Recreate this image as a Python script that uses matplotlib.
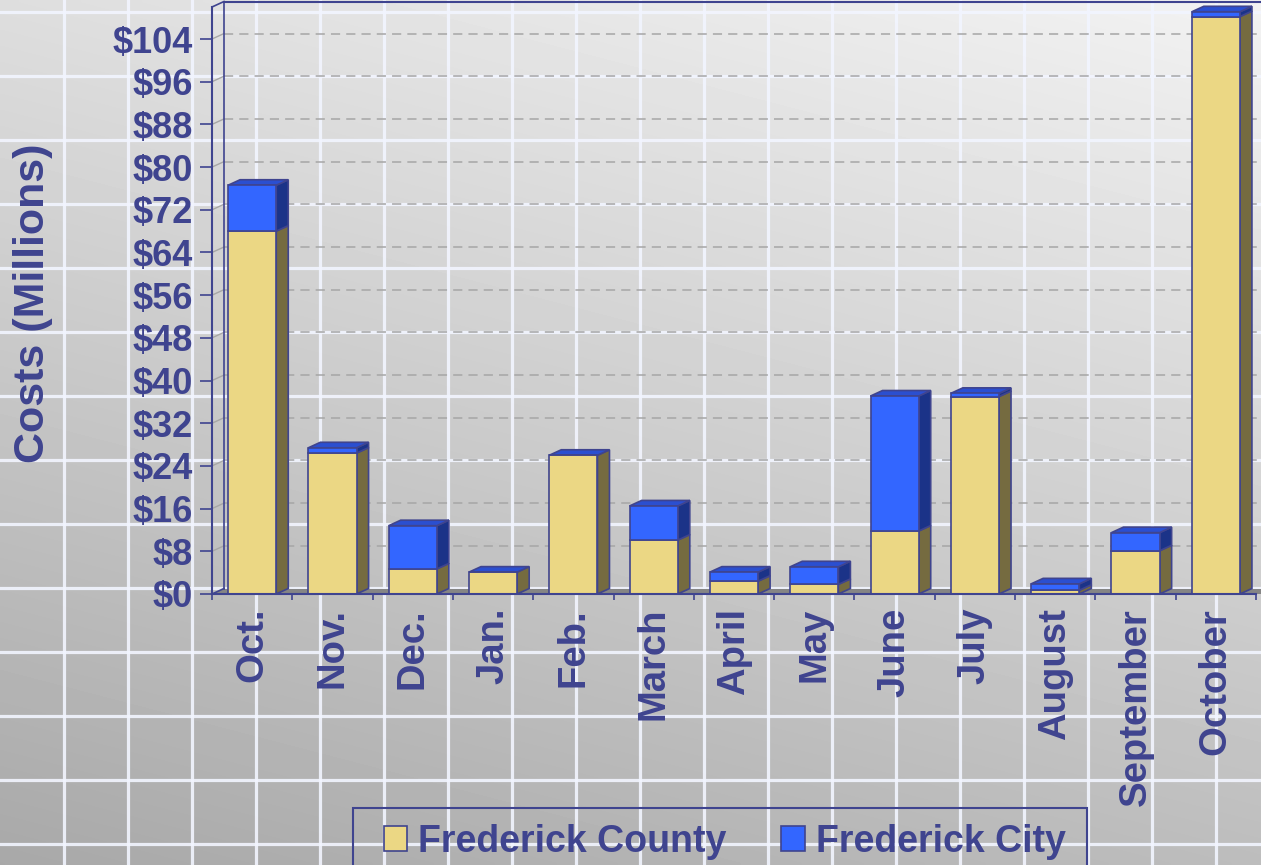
import numpy as np
import matplotlib
matplotlib.use("Agg")
import matplotlib.pyplot as plt
from matplotlib.patches import Polygon, Patch, Rectangle

# ---------------- data ----------------
months = ["Oct.", "Nov.", "Dec.", "Jan.", "Feb.", "March", "April", "May",
          "June", "July", "August", "September", "October"]
county = [68.0, 26.4, 4.7, 4.1, 26.0, 10.1, 2.4, 1.8, 11.8, 37.0, 0.7, 8.1, 108.2]
city = [8.6, 1.0, 8.1, 0.0, 0.0, 6.4, 1.7, 3.3, 25.3, 0.6, 1.2, 3.4, 0.9]
series_names = ["Frederick County", "Frederick City"]
yticks = list(range(0, 105, 8))
ytick_labels = [f"${v}" for v in yticks]

# ---------------- style ----------------
W, H = 1261, 865
TXT = "#3f448f"
C_FRONT = ["#ebd784", "#3366ff"]
C_SIDE = ["#756b40", "#1b3388"]
C_TOP = "#2b4fd0"
EDGE = "#3f448f"
FONT = "Liberation Sans"

plt.rcParams["font.family"] = [FONT, "DejaVu Sans"]
plt.rcParams["font.weight"] = "bold"

fig = plt.figure(figsize=(W / 100, H / 100), dpi=100)

# ---------------- background ----------------
bg = fig.add_axes([0, 0, 1, 1], zorder=-10)
bg.set_xlim(0, W)
bg.set_ylim(H, 0)
bg.axis("off")
yy, xx = np.mgrid[0:1:200j, 0:1:300j]
grad = 0.95 - 0.21 * yy - 0.08 * (1 - xx)
bg.imshow(grad, cmap="gray", vmin=0, vmax=1, extent=(0, W, H, 0),
          aspect="auto", interpolation="bilinear")
for gx in np.arange(63.5, W, 64):
    bg.axvline(gx, color="#f2f5ff", lw=2.3, alpha=0.9)
for gy in np.arange(12, H, 64):
    bg.axhline(gy, color="#f2f5ff", lw=2.3, alpha=0.9)

# ---------------- main axes ----------------
ax = fig.add_axes([212 / W, (H - 594) / H, 1044 / W, 587 / H])
ax.patch.set_visible(False)
n = len(months)
ax.set_xlim(-0.5, n - 0.5)
ax.set_ylim(0, 110)

px_x = 1044 / n
px_y = 587 / 110
DX, DY = 12, 5.5
ddx = DX / px_x
ddy = DY / px_y

# back wall outline, floor, gridlines
x0 = -0.5
x1 = n - 0.5 + 2
ax.add_patch(Polygon([(x0, 0), (x1, 0), (x1, ddy), (x0 + ddx, ddy)],
                     closed=True, fc="#858585", ec="none", zorder=0.6, clip_on=False))
for v in yticks[1:]:
    ax.plot([x0 + ddx, x1], [v + ddy, v + ddy], color="#a6a6a6", lw=1.1,
            ls=(0, (6, 4)), zorder=0.5, clip_on=False)
    ax.plot([x0, x0 + ddx], [v, v + ddy], color="#a6a6a6", lw=1.0,
            zorder=0.5, clip_on=False)
top_y = 110
ax.plot([x0 + ddx, x0 + ddx], [ddy, top_y + ddy], color=EDGE, lw=1.2, zorder=0.7, clip_on=False)
ax.plot([x0 + ddx, x1], [top_y + ddy, top_y + ddy], color=EDGE, lw=1.5, zorder=0.7, clip_on=False)
ax.plot([x0, x0 + ddx], [top_y, top_y + ddy], color=EDGE, lw=1.2, zorder=0.7, clip_on=False)
ax.plot([x0, x0 + ddx], [0, ddy], color=EDGE, lw=1.2, zorder=0.7, clip_on=False)

# ---------------- bars ----------------
x = np.arange(n)
bw = 0.6
county_a = np.array(county)
city_a = np.array(city)
ax.bar(x, county_a, width=bw, color=C_FRONT[0], edgecolor=EDGE, lw=1.2, zorder=3)
ax.bar(x, city_a, width=bw, bottom=county_a, color=C_FRONT[1], edgecolor=EDGE, lw=1.2, zorder=3)

for i in range(n):
    r = x[i] + bw / 2
    l = x[i] - bw / 2
    segs = [(0, county_a[i], 0), (county_a[i], county_a[i] + city_a[i], 1)]
    for y0, y1, k in segs:
        if y1 - y0 <= 0:
            continue
        ax.add_patch(Polygon([(r, y0), (r + ddx, y0 + ddy), (r + ddx, y1 + ddy), (r, y1)],
                             closed=True, fc=C_SIDE[k], ec=EDGE, lw=1.2, zorder=2.5,
                             clip_on=False))
    t = county_a[i] + city_a[i]
    ax.add_patch(Polygon([(l, t), (r, t), (r + ddx, t + ddy), (l + ddx, t + ddy)],
                         closed=True, fc=C_TOP, ec=EDGE, lw=1.2, zorder=2.6, clip_on=False))

# ---------------- axes styling ----------------
for s in ["top", "right"]:
    ax.spines[s].set_visible(False)
for s in ["left", "bottom"]:
    ax.spines[s].set_color(EDGE)
    ax.spines[s].set_linewidth(1.5)
    ax.spines[s].set_zorder(4)

ax.set_yticks(yticks)
ax.set_yticklabels(ytick_labels, fontsize=26, fontweight="bold", color=TXT)
ax.tick_params(axis="y", length=8.6, width=1.2, color=EDGE, pad=5, direction="out")

ax.set_xticks(x)
ax.set_xticklabels(months, rotation=90, fontsize=27.5, fontweight="bold", color=TXT)
ax.tick_params(axis="x", which="major", length=0, pad=10)
ax.set_xticks(np.arange(-0.5, n, 1), minor=True)
ax.tick_params(axis="x", which="minor", length=4.5, width=1.2, color=EDGE, direction="out")

fig.text(33 / W, 1 - 303 / H, "Costs (Millions)", rotation=90, ha="center", va="center",
         fontsize=31, fontweight="bold", color=TXT)

# ---------------- legend ----------------
fig.patches.append(Rectangle((353 / W, 1 - 880 / H), (1087 - 353) / W, (880 - 808) / H,
                             transform=fig.transFigure, fill=False, ec=EDGE, lw=1.5))
handles = [Patch(fc=C_FRONT[0], ec=EDGE, lw=1.2), Patch(fc=C_FRONT[1], ec=EDGE, lw=1.2)]
leg = fig.legend(handles, series_names, loc="center left",
                 bbox_to_anchor=(384 / W, 1 - 842 / H), ncol=2, frameon=False,
                 prop={"family": FONT, "weight": "bold", "size": 27},
                 handlelength=0.62, handleheight=0.65, handletextpad=0.3,
                 columnspacing=1.45, borderpad=0, borderaxespad=0)
for t in leg.get_texts():
    t.set_color(TXT)

fig.savefig("out.png", dpi=100)
